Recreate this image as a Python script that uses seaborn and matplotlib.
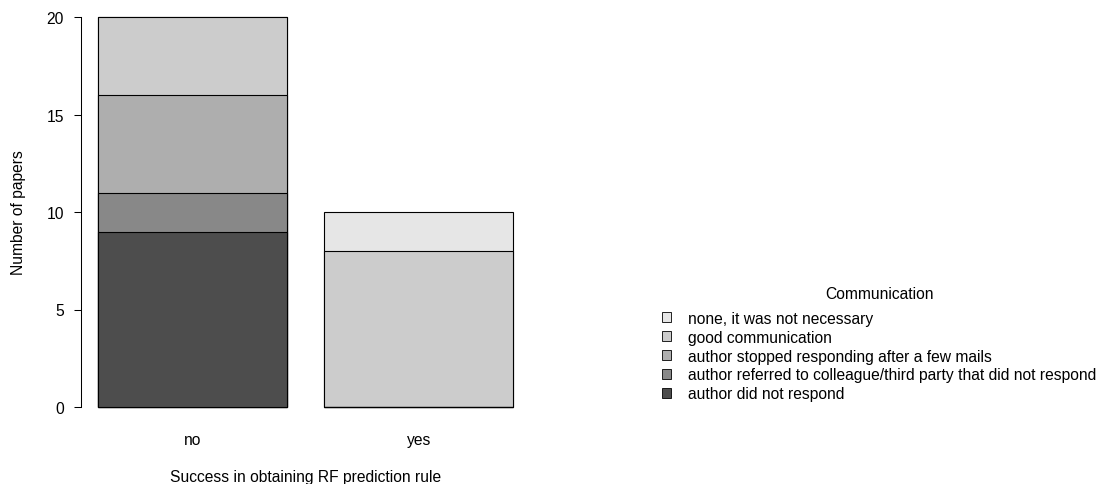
import matplotlib
matplotlib.use("Agg")
import matplotlib.pyplot as plt
from matplotlib.patches import Patch
import seaborn as sns
import numpy as np

# Outcome of trying to obtain the RF prediction rule
success = ["no", "yes"]

# Communication categories, from the bottom of each stack to the top
communication = [
    "author did not respond",
    "author referred to colleague/third party that did not respond",
    "author stopped responding after a few mails",
    "good communication",
    "none, it was not necessary",
]

# Number of papers per communication category (one list per category, values for "no", "yes")
did_not_respond = [9, 0]
referred_no_response = [2, 0]
stopped_responding = [5, 0]
good_communication = [4, 8]
not_necessary = [0, 2]

counts = [did_not_respond, referred_no_response, stopped_responding,
          good_communication, not_necessary]

# Grey ramp from dark to light (R's gray.colors(5))
greys = ["#4D4D4D", "#888888", "#AEAEAE", "#CCCCCC", "#E6E6E6"]

sns.set_style("white")
plt.rcParams["font.family"] = ["Liberation Sans", "DejaVu Sans"]
plt.rcParams["text.color"] = "black"
fs = 11.25

fig = plt.figure(figsize=(11, 4.85), dpi=100)
ax = fig.add_axes([81 / 1100, (485 - 423.6) / 485, 449 / 1100, 421.2 / 485])

# Stacked bars: draw cumulative totals from the top layer down, each one over the last
cum = np.cumsum(np.array(counts), axis=0)
for i in range(len(communication) - 1, -1, -1):
    sns.barplot(x=success, y=cum[i], color=greys[i], saturation=1,
                width=0.8333, edgecolor="black", linewidth=0.8, ax=ax)

ax.set_xlim(-0.49, 1.49)
ax.set_ylim(-0.8, 20.8)

for side in ["top", "right", "bottom"]:
    ax.spines[side].set_visible(False)
ax.spines["left"].set_bounds(0, 20)
ax.spines["left"].set_color("black")
ax.spines["left"].set_linewidth(0.75)

ax.set_yticks([0, 5, 10, 15, 20])
ax.tick_params(axis="y", left=True, length=5.2, width=0.75, color="black",
               pad=7.2, labelsize=fs, labelcolor="black")
ax.tick_params(axis="x", bottom=False, length=0, pad=6.5, labelsize=fs,
               labelcolor="black")

ax.set_ylabel("Number of papers", fontsize=fs, color="black")
ax.yaxis.set_label_coords(-0.1225, 0.5)
ax.set_xlabel("Success in obtaining RF prediction rule", fontsize=fs, color="black")
ax.xaxis.set_label_coords(0.5, -0.110)

handles = [Patch(facecolor=greys[i], edgecolor="black", linewidth=0.6)
           for i in range(len(communication) - 1, -1, -1)]
labels = communication[::-1]
leg = fig.legend(handles, labels, title="Communication", loc="upper left",
                 bbox_to_anchor=(662 / 1100, 1 - 287 / 485), frameon=False,
                 fontsize=fs, title_fontsize=fs, borderpad=0, borderaxespad=0,
                 handlelength=0.55, handleheight=0.55, handletextpad=1.1,
                 labelspacing=0.25, labelcolor="black")
leg.get_title().set_color("black")
leg._legend_box.sep = 7

fig.savefig("out.png", dpi=100)
